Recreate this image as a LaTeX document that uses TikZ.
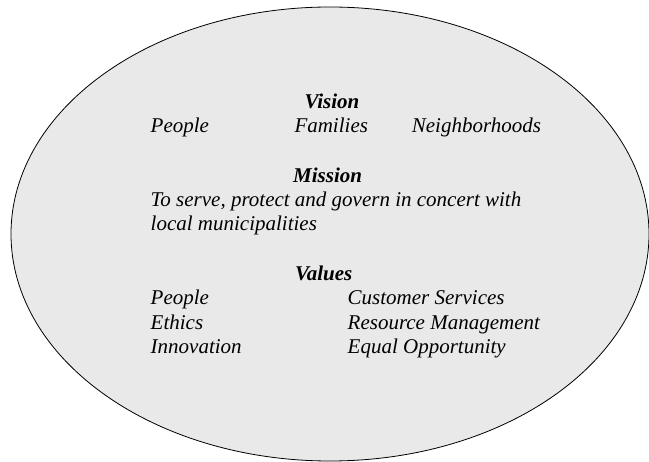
\documentclass[tikz,border=0pt]{standalone}
\usepackage{fontspec}
\setmainfont{Liberation Serif}[
  UprightFont={Liberation Serif},
  ItalicFont={Liberation Serif Italic},
  BoldFont={Liberation Serif Bold},
  BoldItalicFont={Liberation Serif Bold Italic}]
\definecolor{ovalfill}{HTML}{E9E9E9}
\begin{document}
\begin{tikzpicture}[x=1pt,y=-1pt,
  txt/.style={anchor=base west,inner sep=0pt,font=\fontsize{21}{24}\selectfont\itshape},
  head/.style={anchor=base west,inner sep=0pt,font=\fontsize{21}{24}\selectfont\bfseries\itshape},
  oval/.style={draw=black,line width=0.8pt,fill=ovalfill}]
\useasboundingbox (0,0) rectangle (649,462);
\begin{scope}
\clip (0,0) rectangle (649,462);
\path[oval] (330,234) ellipse [x radius=319, y radius=227];
\end{scope}
\node[head] (vision) at (304.3,108.3) {Vision};
\node[txt] (vp) at (150.5,133) {People};
\node[txt] (vf) at (294.3,133) {Families};
\node[txt] (vn) at (411.7,133) {Neighborhoods};
\node[head] (mission) at (293,182.7) {Mission};
\node[txt] (m1) at (150.5,206.7) {To serve, protect and govern in concert with};
\node[txt] (m2) at (150.5,230.7) {local municipalities};
\node[head] (values) at (295,280.7) {Values};
\node[txt] (v1) at (150.5,305) {People};
\node[txt] (v2) at (150.5,329.3) {Ethics};
\node[txt] (v3) at (150.5,353.3) {Innovation};
\node[txt] (v4) at (347.5,305) {Customer Services};
\node[txt] (v5) at (347.5,329.3) {Resource Management};
\node[txt] (v6) at (347.5,353.3) {Equal Opportunity};
\end{tikzpicture}
\end{document}
